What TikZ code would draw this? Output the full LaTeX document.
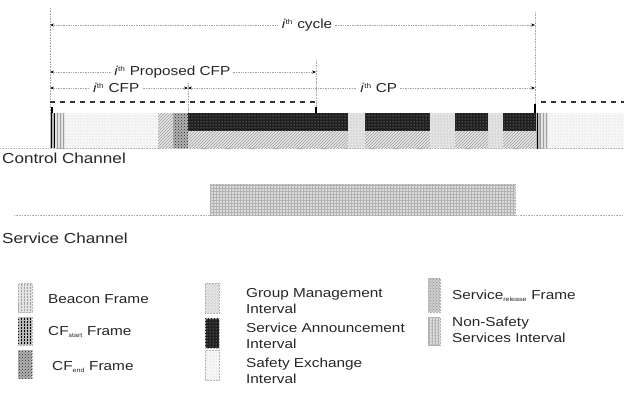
\documentclass[tikz,border=0pt]{standalone}
\usepackage{fontspec}
\setmainfont{Liberation Sans}[FakeStretch=1.18]
\usetikzlibrary{patterns,arrows.meta}
\tikzset{
  txt/.style={font=\fontsize{13}{16.5}\selectfont, inner sep=0pt, text=black!85},
  bigtxt/.style={font=\fontsize{14.5}{17}\selectfont, inner sep=0pt, text=black!85},
  lbl/.style={txt, fill=white, inner xsep=3pt},
  dim/.style={draw=gray!70, densely dotted, line width=0.7pt,
              {Stealth[length=4pt,width=3pt,black]}-{Stealth[length=4pt,width=3pt,black]}},
  guide/.style={draw=gray!70, densely dotted, line width=0.6pt},
  base/.style={draw=gray!60, densely dotted, line width=0.6pt},
  beacon/.style={preaction={fill=gray!22}, pattern=vertical lines, pattern color=gray!75},
  cfstart/.style={preaction={fill=gray!55}, pattern=vertical lines, pattern color=black},
  cfend/.style={preaction={fill=gray!60}, pattern=crosshatch dots, pattern color=black!85},
  gm/.style={preaction={fill=gray!18}, pattern=north east lines, pattern color=gray!80},
  sa/.style={preaction={fill=black!88}, pattern=dots, pattern color=gray!55},
  se/.style={preaction={fill=gray!6}, pattern=dots, pattern color=gray!45},
  gapc/.style={preaction={fill=gray!22}, pattern=dots, pattern color=gray!75},
  srel/.style={preaction={fill=gray!40}, pattern=crosshatch dots, pattern color=gray!85},
  nss/.style={preaction={fill=gray!28}, pattern=grid, pattern color=gray!60},
  swatch/.style={draw=gray!60, densely dotted, line width=0.5pt, minimum width=14pt, inner sep=0pt},
}
\newcommand{\ith}{\textit{i}\textsuperscript{\fontsize{7}{8}\selectfont th}}
\begin{document}
\begin{tikzpicture}[x=1pt,y=-1pt]
\useasboundingbox (0,0) rectangle (624,404);

% vertical guides
\coordinate (g1t) at (50,8);   \coordinate (g1b) at (50,148);
\coordinate (g2t) at (316,60); \coordinate (g2b) at (316,113);
\coordinate (g3t) at (535,12); \coordinate (g3b) at (535,113);
\coordinate (g4t) at (188,83); \coordinate (g4b) at (188,113);
\draw[guide] (g1t) -- (g1b);
\draw[guide] (g2t) -- (g2b);
\draw[guide] (g3t) -- (g3b);
\draw[guide] (g4t) -- (g4b);

% dimension arrows
\coordinate (cycL) at (50,25);  \coordinate (cycR) at (535,25);
\coordinate (pcL) at (50,72);   \coordinate (pcR) at (316,72);
\coordinate (cfpL) at (50,88);  \coordinate (cfpR) at (188,88);
\coordinate (cpL) at (188,88);  \coordinate (cpR) at (535,88);
\draw[dim] (cycL) -- node[lbl, pos=0.53] (lcyc) {\ith\ cycle} (cycR);
\draw[dim] (pcL) -- node[lbl, pos=0.46] (lpc) {\ith\ Proposed CFP} (pcR);
\draw[dim] (cfpL) -- node[lbl, pos=0.48] (lcfp) {\ith\ CFP} (cfpR);
\draw[dim] (cpL) -- node[lbl, pos=0.55] (lcp) {\ith\ CP} (cpR);

% dashed line above bar
\coordinate (d1a) at (50,102); \coordinate (d1b) at (316,102);
\coordinate (d2a) at (541,102); \coordinate (d2b) at (624,102);
\draw[black!80, line width=1.2pt, dash pattern=on 5pt off 5pt] (d1a) -- (d1b);
\draw[black!80, line width=1.2pt, dash pattern=on 5pt off 5pt] (d2a) -- (d2b);
% end marks
\draw[black, line width=1.6pt] (52,107) -- (52,114);
\draw[black, line width=1.6pt] (316,107) -- (316,114);
\draw[black, line width=1.6pt] (535,104) -- (535,114);

% control channel bar
\fill[cfstart] (50,113) rectangle (55,148);
\fill[beacon] (55,113) rectangle (65,148);
\fill[se] (65,113) rectangle (158,148);
\fill[gm] (158,113) rectangle (173,148);
\fill[cfend] (173,113) rectangle (188,148);
\foreach \a/\b in {188/348, 365/430, 455/488, 503/536}{
  \fill[sa] (\a,113) rectangle (\b,131);
  \fill[gm] (\a,131) rectangle (\b,148);
}
\foreach \a/\b in {348/365, 430/455, 488/503}{
  \fill[gapc] (\a,113) rectangle (\b,148);
}
\fill[cfstart] (536,113) rectangle (540,148);
\fill[beacon] (540,113) rectangle (548,148);
\fill[se] (548,113) rectangle (624,148);

% baselines
\coordinate (cb1) at (0,148); \coordinate (cb2) at (624,148);
\draw[base] (cb1) -- (cb2);
\node[bigtxt, anchor=west] (cc) at (2,158) {Control Channel};

% service channel
\fill[nss] (210,184) rectangle (515,215);
\draw[gray!60, densely dotted, line width=0.5pt] (210,184) rectangle (515,215);
\coordinate (sb1) at (14,215); \coordinate (sb2) at (624,215);
\draw[base] (sb1) -- (sb2);
\node[bigtxt, anchor=west] (sc) at (2,238) {Service Channel};

% legend column 1
\node[swatch, beacon, minimum height=29pt] (swb) at (25,298) {};
\node[txt, anchor=west] (tb) at (48,299) {Beacon Frame};
\node[swatch, cfstart, minimum height=28pt] (swcs) at (25,331) {};
\node[txt, anchor=west] (tcs) at (48,332) {CF\textsubscript{\fontsize{6}{7}\selectfont start} Frame};
\node[swatch, cfend, minimum height=28pt] (swce) at (25,364) {};
\node[txt, anchor=west] (tce) at (52,367) {CF\textsubscript{\fontsize{6}{7}\selectfont end} Frame};

% legend column 2
\node[swatch, gm, minimum height=30pt] (swgm) at (212,298) {};
\node[txt, anchor=west, align=left] (tgm) at (246,301) {Group Management\\Interval};
\node[swatch, sa, minimum height=30pt] (swsa) at (212,333) {};
\node[txt, anchor=west, align=left] (tsa) at (246,336) {Service Announcement\\Interval};
\node[swatch, se, minimum height=30pt] (swse) at (212,365) {};
\node[txt, anchor=west, align=left] (tse) at (246,371) {Safety Exchange\\Interval};

% legend column 3
\node[swatch, srel, minimum width=12pt, minimum height=34pt] (swsr) at (434,295) {};
\node[txt, anchor=west] (tsr) at (452,296) {Service\textsubscript{\fontsize{6}{7}\selectfont release} Frame};
\node[swatch, nss, minimum width=12pt, minimum height=28pt] (swns) at (434,331) {};
\node[txt, anchor=west, align=left] (tns) at (452,330) {Non-Safety\\Services Interval};
\end{tikzpicture}
\end{document}
